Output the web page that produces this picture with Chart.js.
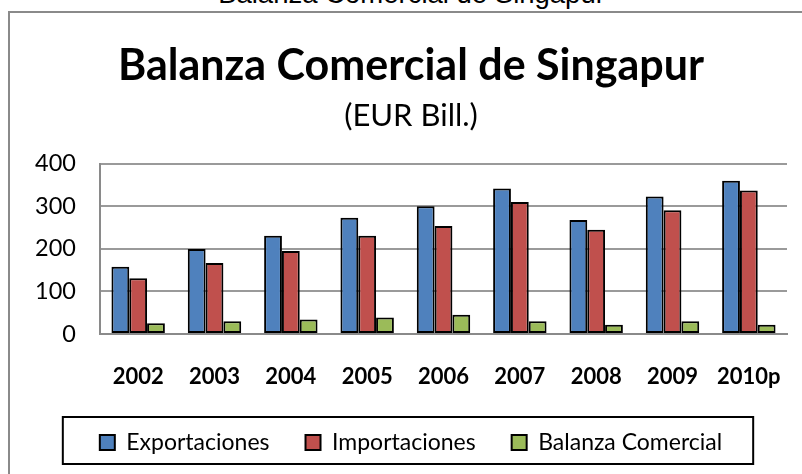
<!DOCTYPE html>
<html>
<head>
<meta charset="utf-8">
<script src="https://cdn.jsdelivr.net/npm/chart.js@4"></script>
<style>
  html, body { margin: 0; padding: 0; background: #fff; overflow: hidden; }
  #caption {
    position: absolute; left: 0; width: 823px; top: -20px;
    text-align: center; font-family: "Liberation Sans", Arial, sans-serif;
    font-size: 27.5px; line-height: 27.5px; color: #000; white-space: nowrap;
  }
  #frame {
    position: absolute; left: 8px; top: 11px; width: 900px; height: 600px;
    border: 2px solid #8a8a8a;
  }
  #wrap { position: absolute; left: 0; top: 0; width: 802px; height: 474px; }
</style>
</head>
<body>
<div id="caption">Balanza Comercial de Singapur</div>
<div id="frame"></div>
<div id="wrap"><canvas id="chart"></canvas></div>
<script>
const years = ["2002", "2003", "2004", "2005", "2006", "2007", "2008", "2009", "2010p"];
const exportaciones = [158, 200, 231, 273, 300, 342, 268, 323, 360];
const importaciones = [131, 167, 195, 231, 254, 310, 245, 291, 337];
const balanza = [25, 30, 34, 39, 45, 30, 22, 30, 22];
const yTicks = [0, 100, 200, 300, 400];

const FONT = "Lato, 'Open Sans', sans-serif";

// box around the legend, like the Excel original
const legendBorder = {
  id: "legendBorder",
  afterDraw(chart) {
    const boxes = chart.legend?.legendHitBoxes;
    if (!boxes || !boxes.length) return;
    const first = boxes[0];
    const last = boxes[boxes.length - 1];
    const left = first.left - 37;
    const right = last.left + last.width + 31;
    const top = first.top - 14;
    const bottom = first.top + 33;
    const ctx = chart.ctx;
    ctx.save();
    ctx.strokeStyle = "#000";
    ctx.lineWidth = 2;
    ctx.strokeRect(left, top, right - left, bottom - top);
    ctx.restore();
  }
};

function bar(label, data, color) {
  return {
    label,
    data,
    backgroundColor: color,
    borderColor: "#000",
    borderWidth: 2,
    borderSkipped: false,
    categoryPercentage: 0.7,
    barPercentage: 1.0
  };
}

new Chart(document.getElementById("chart"), {
  type: "bar",
  data: {
    labels: years,
    datasets: [
      bar("Exportaciones", exportaciones, "#4F81BD"),
      bar("Importaciones", importaciones, "#C0504D"),
      bar("Balanza Comercial", balanza, "#9BBB59")
    ]
  },
  options: {
    responsive: true,
    maintainAspectRatio: false,
    animation: false,
    layout: { padding: { top: 20, left: 35, right: 15, bottom: 10 } },
    plugins: {
      title: {
        display: true,
        text: "Balanza Comercial de Singapur",
        color: "#000",
        font: { family: FONT, size: 43, weight: "bold", lineHeight: 1.2 },
        padding: { top: 20, bottom: 0 }
      },
      subtitle: {
        display: true,
        text: "(EUR Bill.)",
        color: "#000",
        font: { family: FONT, size: 31, weight: "normal", lineHeight: 1.2 },
        padding: { top: 6, bottom: 29 }
      },
      legend: {
        position: "bottom",
        labels: {
          boxWidth: 15,
          boxHeight: 15,
          padding: 36,
          color: "#000",
          font: { family: FONT, size: 23 }
        }
      },
      tooltip: { enabled: false }
    },
    scales: {
      x: {
        afterFit(axis) {
          axis.height = 61;
          axis.paddingLeft = 0;
          axis.paddingRight = 0;
        },
        grid: { display: false, drawTicks: false },
        border: { display: true, color: "#8a8a8a", width: 2 },
        ticks: {
          color: "#000",
          padding: 30,
          font: { family: FONT, size: 22, weight: "bold" }
        }
      },
      y: {
        min: 0,
        max: 400,
        afterBuildTicks(axis) {
          axis.ticks = yTicks.map((v) => ({ value: v }));
        },
        afterFit(axis) {
          axis.width = 65;
        },
        grid: { color: "#9a9a9a", lineWidth: 2, drawTicks: false },
        border: { display: true, color: "#8a8a8a", width: 2 },
        ticks: {
          color: "#000",
          padding: 24,
          font: { family: FONT, size: 23.5 }
        }
      }
    }
  },
  plugins: [legendBorder]
});
</script>
</body>
</html>
